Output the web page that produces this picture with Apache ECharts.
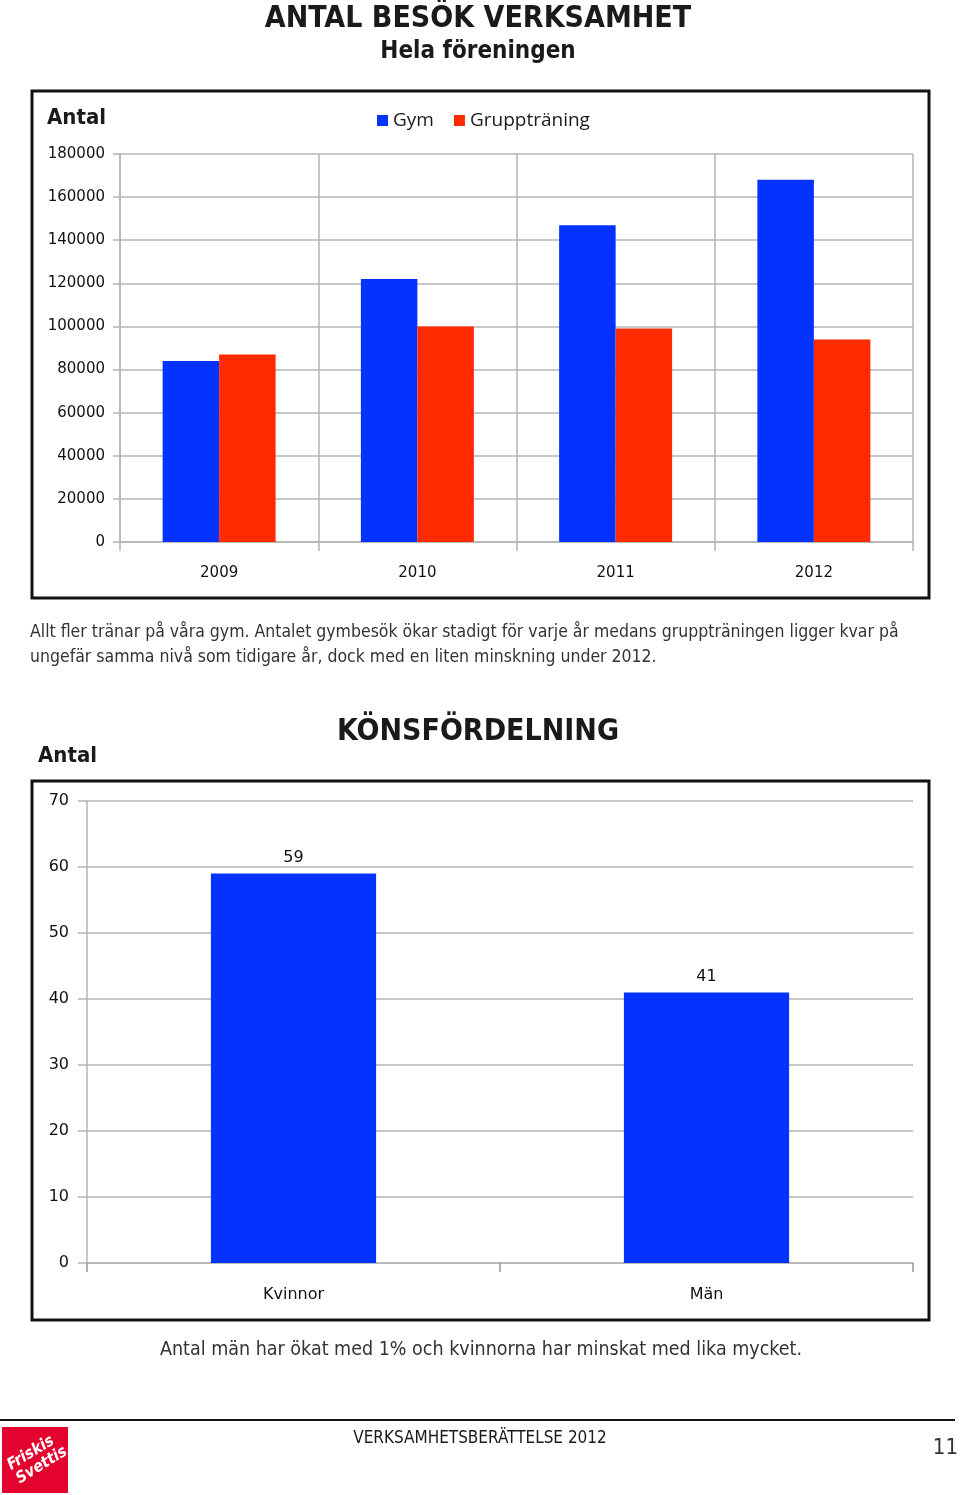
<!DOCTYPE html>
<html>
<head>
<meta charset="utf-8">
<script src="https://cdn.jsdelivr.net/npm/echarts@6/dist/echarts.min.js"></script>
<style>
  html, body { margin: 0; padding: 0; background: #fff; }
  #page { width: 960px; height: 1495px; }
</style>
</head>
<body>
<div id="page"></div>
<script>
// besök per år
const years = ['2009', '2010', '2011', '2012']
const gymVisits = [84000, 122000, 147000, 168000]
const groupVisits = [87000, 100000, 99000, 94000]
// könsfördelning
const genders = ['Kvinnor', 'Män']
const genderShares = [59, 41]

const BLUE = '#0433ff'
const RED = '#ff2a00'
const GRID_GRAY = '#b4b4b4'
const labelFont = '"DejaVu Sans", sans-serif'
const condFont = '"DejaVu Sans Condensed", "DejaVu Sans", sans-serif'

function text (x, y, str, size, opts) {
  opts = opts || {}
  return {
    type: 'text',
    x: x,
    y: y,
    style: {
      text: str,
      fontSize: size,
      fontFamily: opts.family || condFont,
      fontWeight: opts.weight || 'normal',
      fill: opts.color || '#1a1a1a',
      textAlign: opts.align || 'left',
      verticalAlign: 'middle'
    }
  }
}

const plainNumber = (v) => String(v)

const option = {
  animation: false,
  backgroundColor: '#fff',
  legend: {
    data: ['Gym', 'Gruppträning'],
    left: 372,
    top: 106,
    icon: 'rect',
    itemWidth: 11,
    itemHeight: 11,
    itemGap: 20,
    textStyle: {
      fontFamily: '"Open Sans", sans-serif',
      fontSize: 19,
      color: '#1a1a1a'
    }
  },
  grid: [
    { left: 120, top: 154, width: 793, height: 388 },
    { left: 87, top: 801, width: 826, height: 462 }
  ],
  xAxis: [{
    type: 'category',
    gridIndex: 0,
    data: years,
    axisLine: { lineStyle: { color: GRID_GRAY, width: 1.5 } },
    axisTick: { show: true, interval: 0, length: 9, lineStyle: { color: GRID_GRAY, width: 1.5 } },
    splitLine: { show: true, interval: 0, lineStyle: { color: GRID_GRAY, width: 1.5 } },
    axisLabel: { margin: 24, fontFamily: labelFont, fontSize: 15, color: '#111' }
  },
  {
    type: 'category',
    gridIndex: 1,
    data: genders,
    axisLine: { lineStyle: { color: GRID_GRAY, width: 1.5 } },
    axisTick: { show: true, interval: 0, length: 9, lineStyle: { color: '#999', width: 1.5 } },
    splitLine: { show: false },
    axisLabel: { margin: 24, fontFamily: labelFont, fontSize: 16, color: '#111' }
  }],
  yAxis: [{
    type: 'value',
    gridIndex: 0,
    min: 0,
    max: 180000,
    interval: 20000,
    axisLine: { show: true, lineStyle: { color: GRID_GRAY, width: 1.5 } },
    axisTick: { show: true, length: 7, lineStyle: { color: GRID_GRAY, width: 1.5 } },
    splitLine: { lineStyle: { color: GRID_GRAY, width: 1.5 } },
    axisLabel: { margin: 15, fontFamily: labelFont, fontSize: 15, color: '#111', formatter: plainNumber }
  },
  {
    type: 'value',
    gridIndex: 1,
    min: 0,
    max: 70,
    interval: 10,
    axisLine: { show: true, lineStyle: { color: GRID_GRAY, width: 1.5 } },
    axisTick: { show: true, length: 9, lineStyle: { color: GRID_GRAY, width: 1.5 } },
    splitLine: { lineStyle: { color: GRID_GRAY, width: 1.5 } },
    axisLabel: { margin: 18, fontFamily: labelFont, fontSize: 16, color: '#111', formatter: plainNumber }
  }],
  series: [{
    name: 'Gym',
    type: 'bar',
    xAxisIndex: 0,
    yAxisIndex: 0,
    data: gymVisits,
    barGap: '0%',
    barCategoryGap: '43%',
    itemStyle: { color: BLUE }
  },
  {
    name: 'Gruppträning',
    type: 'bar',
    xAxisIndex: 0,
    yAxisIndex: 0,
    data: groupVisits,
    barGap: '0%',
    barCategoryGap: '43%',
    itemStyle: { color: RED }
  },
  {
    name: 'Kön',
    type: 'bar',
    xAxisIndex: 1,
    yAxisIndex: 1,
    data: genderShares,
    barCategoryGap: '60%',
    itemStyle: { color: BLUE },
    label: {
      show: true,
      position: 'top',
      distance: 8,
      fontFamily: labelFont,
      fontSize: 16,
      color: '#111'
    }
  }],
  graphic: [
    // rubriker
    text(478, 19, 'ANTAL BESÖK VERKSAMHET', 30, { weight: 'bold', align: 'center' }),
    text(478, 52, 'Hela föreningen', 24, { weight: 'bold', align: 'center' }),
    // ramar runt diagrammen
    { type: 'rect', shape: { x: 32, y: 91, width: 897, height: 507 }, style: { fill: 'none', stroke: '#111', lineWidth: 3 } },
    { type: 'rect', shape: { x: 32, y: 781, width: 897, height: 539 }, style: { fill: 'none', stroke: '#111', lineWidth: 3 } },
    text(47, 118, 'Antal', 22, { weight: 'bold' }),
    text(30, 632, 'Allt fler tränar på våra gym. Antalet gymbesök ökar stadigt för varje år medans gruppträningen ligger kvar på', 17.5, { color: '#333' }),
    text(30, 657, 'ungefär samma nivå som tidigare år, dock med en liten minskning under 2012.', 17.5, { color: '#333' }),
    text(478, 732, 'KÖNSFÖRDELNING', 30, { weight: 'bold', align: 'center' }),
    text(38, 756, 'Antal', 22, { weight: 'bold' }),
    text(481, 1350, 'Antal män har ökat med 1% och kvinnorna har minskat med lika mycket.', 19.5, { color: '#333', align: 'center' }),
    // sidfot
    { type: 'line', shape: { x1: 0, y1: 1420, x2: 955, y2: 1420 }, style: { stroke: '#111', lineWidth: 2 } },
    text(480, 1439, 'VERKSAMHETSBERÄTTELSE 2012', 17, { align: 'center' }),
    text(958, 1448, '11', 22, { align: 'right', color: '#333' }),
    { type: 'rect', shape: { x: 2, y: 1427, width: 66, height: 66 }, style: { fill: '#e4032e' } },
    {
      type: 'group',
      x: 35,
      y: 1460,
      rotation: 0.55,
      children: [
        { type: 'text', x: 0, y: -8, style: { text: 'Friskis', fontSize: 16, fontStyle: 'italic', fontWeight: 'bold', fontFamily: condFont, fill: '#fff', textAlign: 'center', verticalAlign: 'middle' } },
        { type: 'text', x: 3, y: 8, style: { text: 'Svettis', fontSize: 16, fontStyle: 'italic', fontWeight: 'bold', fontFamily: condFont, fill: '#fff', textAlign: 'center', verticalAlign: 'middle' } }
      ]
    }
  ]
}

const chart = echarts.init(document.getElementById('page'))
chart.setOption(option)
</script>
</body>
</html>
